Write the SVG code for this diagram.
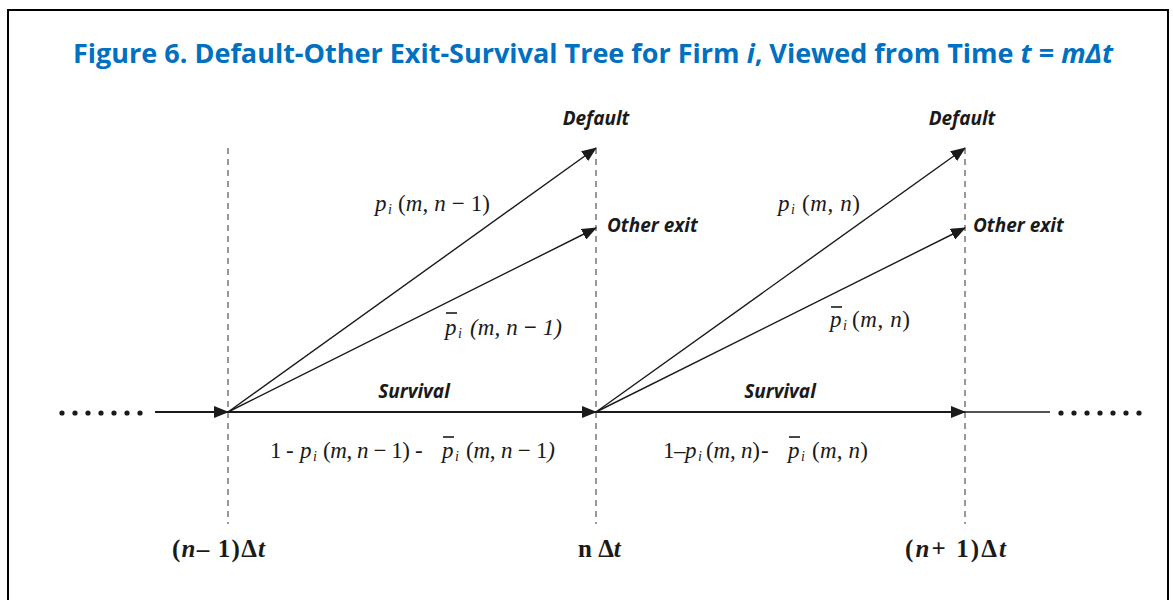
<svg xmlns="http://www.w3.org/2000/svg" width="1173" height="600" viewBox="0 0 1173 600">
<defs>
<marker id="ah" markerWidth="16" markerHeight="12" refX="14" refY="6" orient="auto" markerUnits="userSpaceOnUse">
<path d="M0,0 L15,6 L0,12 Z" fill="#1a1a1a"/>
</marker>
<style>
.title{font-family:"Open Sans","Noto Sans",sans-serif;font-weight:bold;font-size:27px;fill:#0070C0}
.lbl{font-family:"Open Sans","Noto Sans",sans-serif;font-weight:bold;font-style:italic;font-size:19px;fill:#1a1a1a}
.math{font-family:"Liberation Serif","DejaVu Serif",serif;font-size:23px;fill:#1a1a1a}
.it{font-style:italic}
.sub{font-family:"Liberation Serif","DejaVu Serif",serif;font-size:14px;font-style:italic;fill:#1a1a1a}
.axis{font-family:"Liberation Serif","DejaVu Serif",serif;font-size:25px;font-weight:bold;fill:#1a1a1a}
.grid{stroke:#555;stroke-width:1.2;stroke-dasharray:6,5;fill:none}
.arr{stroke:#1a1a1a;stroke-width:1.4;fill:none;marker-end:url(#ah)}
.harr{stroke:#1a1a1a;stroke-width:2;fill:none}
.bar{stroke:#1a1a1a;stroke-width:1.6}
.dot{fill:#1a1a1a}
</style>
</defs>
<rect x="0" y="0" width="1173" height="600" fill="#fff"/>
<path d="M8,600 L8,10 L1168,10 L1168,600" fill="none" stroke="#000" stroke-width="2"/>
<text class="title" x="593" y="63" text-anchor="middle">Figure 6. Default-Other Exit-Survival Tree for Firm <tspan font-style="italic">i</tspan>, Viewed from Time <tspan font-style="italic">t</tspan> = <tspan font-style="italic">mΔt</tspan></text>

<g id="gridlines">
<line class="grid" x1="228" y1="148" x2="228" y2="524"/>
<line class="grid" x1="596" y1="148" x2="596" y2="524"/>
<line class="grid" x1="965" y1="148" x2="965" y2="524"/>
</g>

<g id="connectors">
<line class="arr" x1="155" y1="412" x2="228" y2="412" style="stroke-width:2"/>
<line class="arr" x1="228" y1="412" x2="596" y2="412" style="stroke-width:2"/>
<line class="arr" x1="596" y1="412" x2="965" y2="412" style="stroke-width:2"/>
<line class="harr" x1="965" y1="412" x2="1050" y2="412" style="stroke-width:1.5"/>
<line class="arr" x1="228" y1="412" x2="596" y2="148"/>
<line class="arr" x1="228" y1="412" x2="596" y2="228"/>
<line class="arr" x1="596" y1="412" x2="965" y2="148"/>
<line class="arr" x1="596" y1="412" x2="965" y2="228"/>
</g>

<g id="dots-left">
<circle class="dot" cx="62" cy="413" r="2.6"/><circle class="dot" cx="75" cy="413" r="2.6"/><circle class="dot" cx="88" cy="413" r="2.6"/><circle class="dot" cx="101" cy="413" r="2.6"/><circle class="dot" cx="114" cy="413" r="2.6"/><circle class="dot" cx="127" cy="413" r="2.6"/><circle class="dot" cx="140" cy="413" r="2.6"/>
</g>
<g id="dots-right">
<circle class="dot" cx="1061" cy="413" r="2.6"/><circle class="dot" cx="1074" cy="413" r="2.6"/><circle class="dot" cx="1087" cy="413" r="2.6"/><circle class="dot" cx="1100" cy="413" r="2.6"/><circle class="dot" cx="1113" cy="413" r="2.6"/><circle class="dot" cx="1126" cy="413" r="2.6"/><circle class="dot" cx="1139" cy="413" r="2.6"/>
</g>

<g id="node-default-1"><text class="lbl" x="596" y="125" text-anchor="middle">Default</text></g>
<g id="node-other-1"><text class="lbl" x="607" y="232">Other exit</text></g>
<g id="node-default-2"><text class="lbl" x="962" y="125" text-anchor="middle">Default</text></g>
<g id="node-other-2"><text class="lbl" x="973" y="232">Other exit</text></g>
<g id="node-survival-1"><text class="lbl" x="414" y="398" text-anchor="middle">Survival</text></g>
<g id="node-survival-2"><text class="lbl" x="780" y="398" text-anchor="middle">Survival</text></g>

<g id="label-p1">
<text class="math it" x="375" y="211">p</text>
<text class="sub" x="388" y="214">i</text>
<text class="math" x="398" y="211" textLength="92" lengthAdjust="spacing">(<tspan class="it">m</tspan>, <tspan class="it">n</tspan> − 1)</text>
</g>
<g id="label-pbar1">
<text class="math it" x="445" y="335">p</text>
<text class="sub" x="458" y="338">i</text>
<text class="math it" x="470" y="335" textLength="92" lengthAdjust="spacing">(m, n <tspan font-weight="bold" font-style="normal">−</tspan> 1)</text>
<line class="bar" x1="446" y1="313" x2="457" y2="313"/>
</g>
<g id="label-p2">
<text class="math it" x="778" y="211">p</text>
<text class="sub" x="791" y="214">i</text>
<text class="math" x="802" y="211" textLength="58" lengthAdjust="spacing">(<tspan class="it">m</tspan>, <tspan class="it">n</tspan>)</text>
</g>
<g id="label-pbar2">
<text class="math it" x="830" y="327">p</text>
<text class="sub" x="843" y="330">i</text>
<text class="math" x="852" y="327" textLength="58" lengthAdjust="spacing">(<tspan class="it">m</tspan>, <tspan class="it">n</tspan>)</text>
<line class="bar" x1="831" y1="307" x2="842" y2="307"/>
</g>
<g id="label-surv1">
<text class="math" x="270" y="458">1</text>
<text class="math" x="286" y="458">-</text>
<text class="math it" x="300" y="458">p</text>
<text class="sub" x="313" y="461">i</text>
<text class="math" x="323" y="458" textLength="87" lengthAdjust="spacing">(<tspan class="it">m</tspan>, <tspan class="it">n</tspan> − 1)</text>
<text class="math" x="415" y="458">-</text>
<text class="math it" x="442" y="458">p</text>
<text class="sub" x="455" y="461">i</text>
<text class="math" x="466" y="458" textLength="89" lengthAdjust="spacing">(<tspan class="it">m</tspan>, <tspan class="it">n</tspan> − 1<tspan class="it">)</tspan></text>
<line class="bar" x1="443" y1="437" x2="454" y2="437"/>
</g>
<g id="label-surv2">
<text class="math" x="663" y="458">1</text>
<text class="math" x="674" y="458" font-size="17">–</text>
<text class="math it" x="685" y="458">p</text>
<text class="sub" x="698" y="461">i</text>
<text class="math" x="706" y="458" textLength="54" lengthAdjust="spacing">(<tspan class="it">m</tspan>, <tspan class="it">n</tspan>)</text>
<text class="math" x="761" y="458">-</text>
<text class="math it" x="788" y="458">p</text>
<text class="sub" x="801" y="461">i</text>
<text class="math" x="812" y="458" textLength="56" lengthAdjust="spacing">(<tspan class="it">m</tspan>, <tspan class="it">n</tspan>)</text>
<line class="bar" x1="789" y1="437" x2="800" y2="437"/>
</g>

<g id="axis-labels">
<text class="axis" x="172" y="557" textLength="93" lengthAdjust="spacing">(<tspan class="it">n</tspan>– 1)Δ<tspan class="it">t</tspan></text>
<text class="axis" x="578" y="557">n Δ<tspan class="it">t</tspan></text>
<text class="axis" x="905" y="557" textLength="101" lengthAdjust="spacing">(<tspan class="it">n</tspan>+ 1)Δ<tspan class="it">t</tspan></text>
</g>
</svg>
